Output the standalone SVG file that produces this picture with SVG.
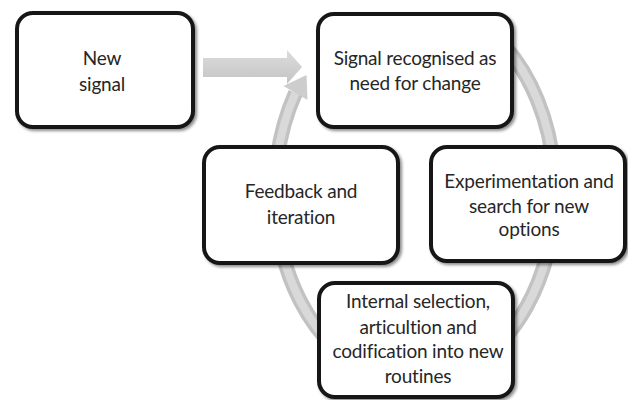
<svg xmlns="http://www.w3.org/2000/svg" width="628" height="400" viewBox="0 0 628 400">
  <defs>
    <filter id="shadow" x="-10%" y="-10%" width="125%" height="125%">
      <feDropShadow dx="2" dy="2" stdDeviation="1.5" flood-color="#000" flood-opacity="0.45"/>
    </filter>
    <linearGradient id="arrowGrad" x1="0" y1="0" x2="0" y2="1">
      <stop offset="0" stop-color="#dcdcdc"/>
      <stop offset="1" stop-color="#c4c4c4"/>
    </linearGradient>
  </defs>
  <style>
    .box { fill: #ffffff; stroke: #161616; stroke-width: 4; filter: url(#shadow); }
    .lbl { font-family: Lato, "Liberation Sans", sans-serif; font-size: 19px; letter-spacing: -0.2px; fill: #262626; text-anchor: middle; }
    .ringOuter { fill: none; stroke: #c2c2c2; stroke-width: 15; }
    .ringInner { fill: none; stroke: #d9d9d9; stroke-width: 8; }
    .arrowFill { fill: url(#arrowGrad); }
    .headFill { fill: #cdcdcd; }
  </style>

  <g id="connectors">
    <path class="ringOuter" d="M 505 46.5 A 140 190 0 1 1 295.5 93"/>
    <path class="ringInner" d="M 505 46.5 A 140 190 0 1 1 295.5 93"/>
    <polygon class="headFill" points="307.5,100 283.5,86 306.5,75"/>
    <polygon class="arrowFill" points="203,58 287,58 287,50 302,67 287,84 287,77 203,77"/>
  </g>

  <g id="node-new-signal">
    <rect class="box" x="17" y="13" width="176" height="114" rx="16"/>
    <text class="lbl" x="102" y="65">New</text>
    <text class="lbl" x="102" y="91">signal</text>
  </g>

  <g id="node-signal-recognised">
    <rect class="box" x="318" y="14" width="194" height="113" rx="16"/>
    <text class="lbl" x="415" y="65">Signal recognised as</text>
    <text class="lbl" x="415" y="90">need for change</text>
  </g>

  <g id="node-feedback">
    <rect class="box" x="204" y="147" width="194" height="116" rx="16"/>
    <text class="lbl" x="301" y="198">Feedback and</text>
    <text class="lbl" x="301" y="224">iteration</text>
  </g>

  <g id="node-experimentation">
    <rect class="box" x="431" y="147" width="194" height="114" rx="16"/>
    <text class="lbl" x="529" y="188">Experimentation and</text>
    <text class="lbl" x="529" y="213">search for new</text>
    <text class="lbl" x="529" y="236">options</text>
  </g>

  <g id="node-internal-selection">
    <rect class="box" x="319" y="283" width="194" height="114" rx="16"/>
    <text class="lbl" x="418" y="308">Internal selection,</text>
    <text class="lbl" x="418" y="334">articultion and</text>
    <text class="lbl" x="418" y="358">codification into new</text>
    <text class="lbl" x="418" y="383">routines</text>
  </g>
</svg>
